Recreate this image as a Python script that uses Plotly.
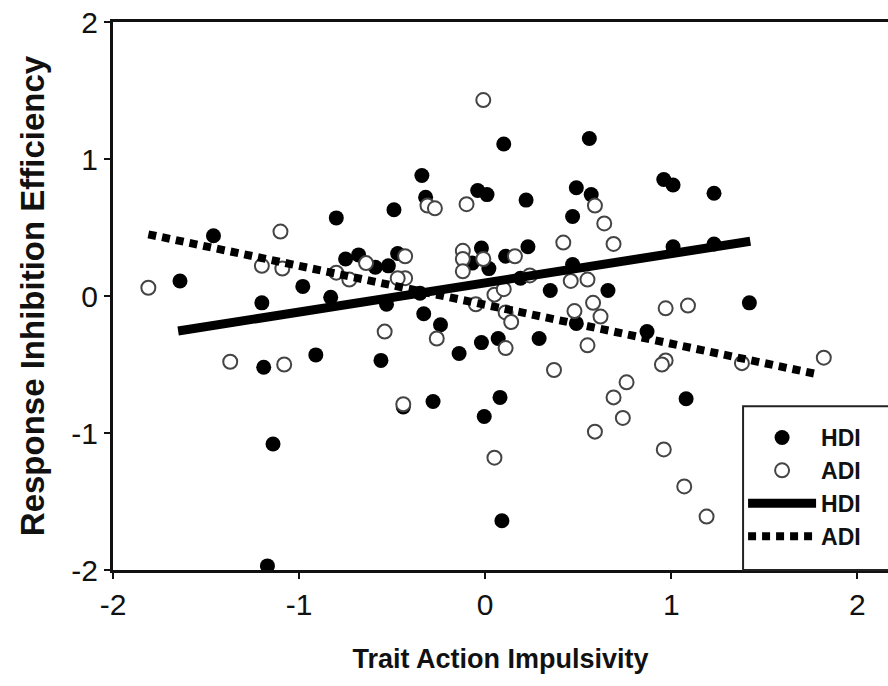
import plotly.graph_objects as go

# HDI group (filled circles)
hdi_x = [-1.64, -1.46, -1.20, -1.19, -1.14, -1.17, -0.98, -0.91, -0.83, -0.80,
         -0.75, -0.68, -0.59, -0.52, -0.47, -0.53, -0.56, -0.49, -0.34, -0.32,
         -0.35, -0.33, -0.24, -0.14, -0.02, -0.005, -0.28, -0.44, -0.04, 0.01,
         -0.07, -0.02, 0.02, 0.11, 0.19, 0.23, 0.22, 0.10, 0.56, 0.49,
         0.57, 0.47, 0.47, 0.35, 0.66, 0.07, 0.29, 0.49, 0.08, 0.09,
         0.87, 0.96, 1.01, 1.01, 1.23, 1.23, 1.42, 1.08]
hdi_y = [0.11, 0.44, -0.05, -0.52, -1.08, -1.97, 0.07, -0.43, -0.01, 0.57,
         0.27, 0.30, 0.21, 0.22, 0.31, -0.06, -0.47, 0.63, 0.88, 0.72,
         0.02, -0.13, -0.21, -0.42, -0.34, -0.88, -0.77, -0.81, 0.77, 0.74,
         0.24, 0.35, 0.20, 0.29, 0.13, 0.36, 0.70, 1.11, 1.15, 0.79,
         0.74, 0.58, 0.23, 0.04, 0.04, -0.31, -0.31, -0.20, -0.74, -1.64,
         -0.26, 0.85, 0.81, 0.36, 0.75, 0.38, -0.05, -0.75]

# ADI group (open circles)
adi_x = [-1.81, -1.37, -1.20, -1.10, -1.09, -1.08, -0.80, -0.73, -0.64, -0.54,
         -0.43, -0.43, -0.47, -0.44, -0.31, -0.27, -0.26, -0.12, -0.12, -0.12,
         -0.10, -0.01, -0.01, -0.05, 0.05, 0.10, 0.11, 0.14, 0.11, 0.16,
         0.24, 0.05, 0.37, 0.42, 0.46, 0.55, 0.48, 0.58, 0.62, 0.55,
         0.59, 0.64, 0.69, 0.59, 0.69, 0.74, 0.76, 0.97, 0.97, 0.95,
         0.96, 1.09, 1.07, 1.19, 1.38, 1.82]
adi_y = [0.06, -0.48, 0.22, 0.47, 0.20, -0.50, 0.17, 0.12, 0.24, -0.26,
         0.29, 0.13, 0.13, -0.79, 0.66, 0.64, -0.31, 0.33, 0.27, 0.18,
         0.67, 1.43, 0.27, -0.06, 0.01, 0.05, -0.12, -0.19, -0.38, 0.29,
         0.15, -1.18, -0.54, 0.39, 0.11, 0.12, -0.11, -0.05, -0.15, -0.36,
         0.66, 0.53, 0.38, -0.99, -0.74, -0.89, -0.63, -0.09, -0.47, -0.50,
         -1.12, -0.07, -1.39, -1.61, -0.49, -0.45]

# Fitted regression lines: x-range, intercept, slope
hdi_fit_x = [-1.65, 1.425]
hdi_intercept, hdi_slope = 0.096, 0.213
adi_fit_x = [-1.81, 1.785]
adi_intercept, adi_slope = -0.064, -0.284

x_ticks = [-2, -1, 0, 1, 2]
y_ticks = [-2, -1, 0, 1, 2]

hdi_fit_y = [hdi_intercept + hdi_slope * v for v in hdi_fit_x]
adi_fit_y = [adi_intercept + adi_slope * v for v in adi_fit_x]

fig = go.Figure()
fig.add_trace(go.Scatter(x=hdi_x, y=hdi_y, mode="markers", name="HDI",
                         marker=dict(size=15, color="black",
                                     line=dict(width=0))))
fig.add_trace(go.Scatter(x=adi_x, y=adi_y, mode="markers", name="ADI",
                         marker=dict(size=14, color="white",
                                     line=dict(width=2, color="#444"))))
fig.add_trace(go.Scatter(x=hdi_fit_x, y=hdi_fit_y, mode="lines", name="HDI",
                         line=dict(color="black", width=9)))
fig.add_trace(go.Scatter(x=adi_fit_x, y=adi_fit_y, mode="lines", name="ADI",
                         line=dict(color="black", width=8, dash="8px,6px")))

FONT = "Liberation Sans, Arial, sans-serif"
tick_font = dict(family=FONT, size=30, color="#111")

# legend frame (runs off the right edge, as in the original figure)
fig.add_shape(type="rect", xref="paper", yref="paper",
              x0=0.813, x1=1.05, y0=0, y1=0.299,
              line=dict(color="#222", width=2), fillcolor="white", layer="above")

fig.update_layout(
    width=888, height=686,
    margin=dict(l=113, r=0, t=22, b=116, autoexpand=False),
    paper_bgcolor="white", plot_bgcolor="white",
    showlegend=True,
    legend=dict(x=0.813, y=0.281, xanchor="left", yanchor="top",
                bgcolor="rgba(0,0,0,0)", borderwidth=0,
                font=dict(family=FONT, size=23, color="#111", weight="bold"),
                itemwidth=68, tracegroupgap=0),
    xaxis=dict(range=[-2, 2.165], tickvals=x_ticks, ticktext=[str(v) for v in x_ticks],
               showgrid=False, zeroline=False, showline=True, linecolor="#111",
               linewidth=3, mirror=True, ticks="outside", ticklen=6,
               tickwidth=1.5, tickcolor="#111", tickfont=tick_font,
               title=dict(text="<b>Trait Action Impulsivity</b>",
                          font=dict(family=FONT, size=27, color="#111"),
                          standoff=30)),
    yaxis=dict(range=[-2, 2], tickvals=y_ticks, ticktext=[str(v) for v in y_ticks],
               showgrid=False, zeroline=False, showline=True, linecolor="#111",
               linewidth=3, mirror=True, ticks="outside", ticklen=6,
               tickwidth=1.5, tickcolor="#111", tickfont=tick_font,
               title=dict(text="<b>Response Inhibition Efficiency</b>",
                          font=dict(family=FONT, size=33, color="#111"),
                          standoff=17)),
)

fig.write_html("out.html",
               config={"displayModeBar": False},
               post_script="document.body.style.margin='0';"
                           "document.documentElement.style.overflow='hidden';")
